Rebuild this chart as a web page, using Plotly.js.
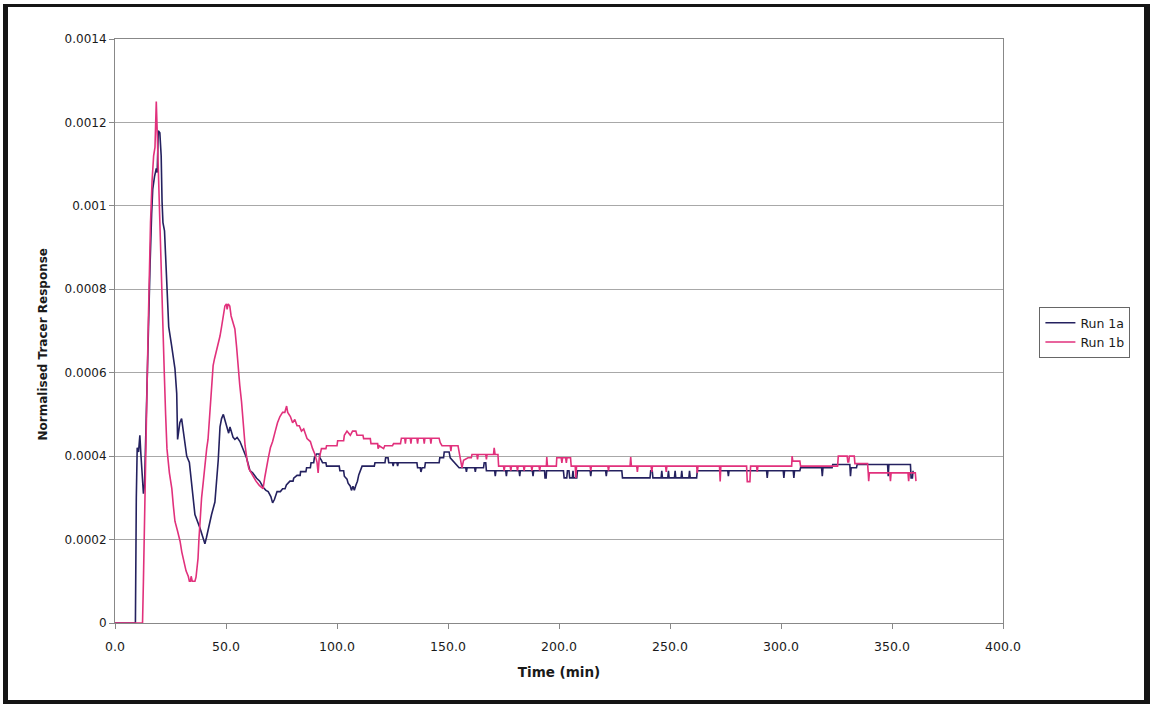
<!DOCTYPE html>
<html>
<head>
<meta charset="utf-8">
<script src="https://cdn.plot.ly/plotly-3.0.1.min.js"></script>
<style>
  html, body { margin: 0; padding: 0; background: #fff; }
  #wrap { position: relative; width: 1153px; height: 706px; }
  #chart { position: absolute; left: 0; top: 0; width: 1153px; height: 706px; }
  #frame {
    position: absolute; left: 3px; top: 4px; width: 1136px; height: 693px;
    border-left: 5px solid #151515; border-top: 3px solid #151515;
    border-right: 6px solid #151515; border-bottom: 4px solid #151515;
    pointer-events: none;
  }
</style>
</head>
<body>
<div id="wrap">
  <div id="chart"></div>
  <div id="frame"></div>
</div>
<script>
// Series names
const seriesNames = ['Run 1a', 'Run 1b'];

// Run 1a: [time (min), normalised tracer response]
const run1a = [
  [0,0],[9.2,0],[9.6,0.00030],[10.0,0.00042],[10.6,0.00041],[11.2,0.00045],[11.6,0.00041],[12.2,0.00036],[12.8,0.00031],[13.3,0.00033],
  [13.8,0.00045],[14.5,0.00062],[15.2,0.00078],[15.8,0.00086],[16.5,0.00098],[17.0,0.00104],[17.8,0.00107],[18.6,0.00109],[19.0,0.00108],[19.5,0.00118],
  [20.2,0.001175],[20.8,0.00112],[21.2,0.00101],[21.6,0.00096],[22.3,0.00094],[23.0,0.00085],[23.5,0.00079],[24.2,0.00071],[25.5,0.000665],[27.0,0.00061],
  [27.8,0.00055],[28.2,0.00044],[28.7,0.00046],[29.2,0.00048],[30.0,0.00049],[30.7,0.00046],[31.5,0.00043],[32.3,0.00040],[33.5,0.000385],[34.5,0.00034],
  [36.0,0.00026],[38.3,0.000227],[39.8,0.000203],[40.5,0.00019],[41.2,0.000205],[42.0,0.000227],[43.5,0.00026],[45.0,0.00029],[45.8,0.00034],[46.5,0.00039],
  [47.3,0.00047],[48.0,0.00049],[48.8,0.0005],[50.0,0.00048],[50.6,0.000465],[51.2,0.000455],[51.8,0.00047],[52.5,0.00046],[53.2,0.000445],[54.0,0.00044],
  [55.0,0.000445],[56.3,0.000435],[57.0,0.000425],[57.8,0.000415],[59.3,0.000395],[60.8,0.000365],[62.0,0.00036],[63.8,0.000347],[65.2,0.00034],[66.8,0.000325],
  [68.0,0.000318],[69.0,0.000315],[70.2,0.000303],[71.0,0.000288],[71.8,0.000296],[73.0,0.000315],[74.5,0.000315],[75.5,0.000322],[76.6,0.000322],[77.2,0.000331],
  [78.8,0.00034],[80.2,0.00034],[80.5,0.000347],[82.0,0.000354],[83.4,0.000354],[83.6,0.000363],[86.0,0.000363],[86.3,0.000372],[88.0,0.000372],[88.3,0.000384],
  [89.5,0.000384],[89.8,0.000396],[90.8,0.000405],[92.0,0.000405],[92.3,0.000396],[93.0,0.00039],[93.5,0.000384],[95.0,0.000384],[95.3,0.000376],[101.0,0.000376],
  [101.3,0.000365],[103.0,0.000365],[103.3,0.000352],[104.5,0.000345],[105.0,0.000335],[106.0,0.000328],[106.5,0.000318],[107.2,0.000328],[107.8,0.000318],[108.5,0.00033],
  [109.2,0.00034],[109.8,0.000355],[111.0,0.00037],[111.3,0.000376],[116.8,0.000376],[117.1,0.000384],[121.6,0.000384],[121.9,0.000396],[123.0,0.000396],[123.3,0.000384],
  [125.0,0.000384],[125.3,0.000376],[125.6,0.000384],[127.0,0.000384],[127.3,0.000376],[127.6,0.000384],[136.0,0.000384],[136.3,0.000372],[137.5,0.000372],[137.8,0.000362],
  [138.3,0.000372],[139.5,0.000372],[139.8,0.000384],[146.0,0.000384],[146.3,0.000396],[148.0,0.000396],[148.3,0.00041],[150.5,0.00041],[151.0,0.000396],[153.0,0.000384],
  [154.5,0.000376],[155.0,0.000372],[158.0,0.000372],[158.3,0.000362],[158.6,0.000372],[162.0,0.000372],[162.3,0.000362],[162.6,0.000372],[166.0,0.000372],[166.3,0.000384],
  [167.0,0.000384],[167.3,0.000365],[171.0,0.000365],[171.3,0.000352],[171.6,0.000365],[176.0,0.000365],[176.3,0.000352],[176.6,0.000365],[182.0,0.000365],[182.3,0.000352],
  [182.6,0.000365],[188.0,0.000365],[188.3,0.000352],[188.6,0.000365],[193.5,0.000365],[193.7,0.000348],[194.2,0.000348],[194.4,0.000365],[202.0,0.000365],[202.3,0.000348],
  [203.5,0.000348],[203.8,0.000365],[204.5,0.000365],[204.8,0.000348],[206.0,0.000348],[206.3,0.000365],[206.6,0.000348],[208.0,0.000348],[208.3,0.000365],[214.0,0.000365],
  [214.3,0.000352],[214.6,0.000365],[221.0,0.000365],[221.3,0.000352],[221.6,0.000365],[228.3,0.000365],[228.6,0.000348],[241.0,0.000348],[241.3,0.000365],[242.0,0.000365],
  [242.3,0.000348],[246.0,0.000348],[246.3,0.000365],[246.6,0.000348],[249.0,0.000348],[249.3,0.000365],[249.6,0.000348],[252.0,0.000348],[252.3,0.000365],[252.6,0.000348],
  [255.0,0.000348],[255.3,0.000365],[255.6,0.000348],[258.5,0.000348],[258.8,0.000365],[259.1,0.000348],[262.0,0.000348],[262.3,0.000365],[276.0,0.000365],[276.3,0.000352],
  [276.6,0.000365],[293.5,0.000365],[293.8,0.000348],[294.1,0.000365],[301.0,0.000365],[301.3,0.000348],[301.6,0.000365],[305.5,0.000365],[305.8,0.000348],[306.1,0.000365],
  [308.5,0.000365],[308.8,0.000372],[318.3,0.000372],[318.6,0.000352],[318.9,0.000372],[323.0,0.000372],[323.3,0.00038],[331.0,0.00038],[331.3,0.000352],[331.6,0.000372],
  [334.0,0.000372],[334.3,0.00038],[348.0,0.00038],[348.3,0.000352],[348.6,0.00038],[358.3,0.00038],[358.6,0.000348],[359.2,0.000348],[359.5,0.000365]
];

// Run 1b: [time (min), normalised tracer response]
const run1b = [
  [0,0],[12.4,0],[12.8,0.00010],[13.4,0.00030],[14.2,0.00050],[15.0,0.00072],[15.4,0.00084],[16.0,0.00096],[16.7,0.00106],[17.4,0.00112],
  [18.0,0.00114],[18.3,0.00120],[18.6,0.00125],[19.0,0.00118],[19.4,0.00110],[19.9,0.00102],[20.4,0.00096],[21.0,0.00082],[21.6,0.00070],[22.2,0.00060],
  [22.8,0.00050],[23.4,0.000418],[24.5,0.00036],[25.6,0.000322],[26.3,0.00028],[27.0,0.000244],[28.2,0.00022],[29.3,0.000196],[30.1,0.00017],[30.8,0.000155],
  [32.0,0.000125],[33.0,0.000112],[33.5,0.0001],[34.0,0.0001],[34.3,0.000112],[34.8,0.0001],[36.0,0.0001],[36.5,0.00011],[37.0,0.00013],[37.4,0.000155],
  [37.8,0.0002],[38.3,0.000258],[39.0,0.0003],[39.8,0.00034],[40.6,0.00039],[41.3,0.000418],[41.9,0.00044],[42.6,0.0005],[43.3,0.00056],[44.2,0.000617],
  [44.8,0.000633],[45.6,0.00065],[46.4,0.00067],[47.3,0.000688],[48.0,0.00071],[48.8,0.00074],[49.5,0.00076],[50.2,0.000765],[50.5,0.000752],[51.0,0.000765],
  [51.7,0.00076],[52.3,0.000736],[53.0,0.00072],[54.0,0.000705],[54.8,0.00066],[55.4,0.00061],[56.2,0.00057],[57.0,0.00053],[57.8,0.00048],[58.6,0.000425],
  [59.5,0.00039],[60.3,0.00037],[62.0,0.000354],[63.5,0.00034],[65.0,0.00033],[66.7,0.000322],[67.5,0.00035],[68.3,0.00038],[69.0,0.000394],[70.0,0.00042],
  [71.0,0.000435],[72.2,0.00046],[73.2,0.00048],[74.3,0.000495],[75.5,0.000505],[76.5,0.000505],[77.3,0.00052],[77.8,0.000505],[79.0,0.000495],[80.0,0.00048],
  [81.0,0.000488],[82.0,0.000473],[83.0,0.000473],[84.0,0.00046],[85.0,0.000465],[86.5,0.000442],[88.0,0.000435],[89.0,0.000418],[90.0,0.000405],[91.0,0.000385],
  [91.5,0.00036],[92.0,0.000395],[93.0,0.000418],[95.0,0.000418],[95.3,0.000425],[100.0,0.000425],[100.3,0.000437],[103.0,0.000437],[103.3,0.00045],[104.5,0.00046],
  [106.0,0.00045],[107.0,0.00046],[108.5,0.00046],[109.0,0.00045],[111.7,0.00045],[112.0,0.000442],[115.0,0.000442],[115.3,0.00043],[118.3,0.00043],[118.5,0.000418],
  [119.0,0.000425],[121.0,0.000418],[121.5,0.000425],[125.0,0.000425],[125.5,0.00043],[128.6,0.00043],[129.0,0.000443],[130.5,0.000443],[130.8,0.00043],[131.1,0.000443],
  [133.0,0.000443],[133.3,0.00043],[133.6,0.000443],[136.0,0.000443],[136.3,0.00043],[136.6,0.000443],[139.0,0.000443],[139.3,0.00043],[139.6,0.000443],[142.0,0.000443],
  [142.3,0.00043],[142.6,0.000443],[146.0,0.000443],[146.5,0.000432],[147.3,0.000425],[151.0,0.000425],[151.3,0.000412],[151.6,0.000425],[154.5,0.000425],[155.0,0.00041],
  [155.8,0.00039],[156.3,0.000372],[157.0,0.00039],[159.0,0.000396],[160.5,0.000396],[160.8,0.000404],[163.0,0.000404],[163.3,0.000392],[163.6,0.000404],[167.0,0.000404],
  [167.3,0.000392],[167.6,0.000404],[170.5,0.000404],[170.8,0.00042],[171.2,0.000404],[172.5,0.000404],[172.8,0.000376],[175.0,0.000376],[175.3,0.000365],[175.6,0.000376],
  [178.0,0.000376],[178.3,0.000365],[178.6,0.000376],[181.0,0.000376],[181.3,0.000365],[181.6,0.000376],[184.0,0.000376],[184.3,0.000365],[184.6,0.000376],[187.5,0.000376],
  [187.8,0.000365],[188.1,0.000376],[191.0,0.000376],[191.3,0.000365],[191.6,0.000376],[194.3,0.000376],[194.5,0.000398],[194.8,0.000376],[198.8,0.000376],[199.0,0.000396],
  [201.0,0.000396],[201.3,0.000384],[201.6,0.000396],[203.0,0.000396],[203.3,0.000384],[203.6,0.000396],[205.2,0.000396],[205.5,0.000376],[207.3,0.000376],[207.6,0.000348],
  [207.9,0.000376],[214.0,0.000376],[214.3,0.000365],[214.6,0.000376],[222.0,0.000376],[222.3,0.000365],[222.6,0.000376],[232.0,0.000376],[232.3,0.000398],[232.6,0.000376],
  [235.0,0.000376],[235.3,0.000362],[235.6,0.000376],[241.5,0.000376],[241.8,0.000362],[242.1,0.000376],[248.0,0.000376],[248.3,0.000362],[248.6,0.000376],[262.0,0.000376],
  [262.3,0.00036],[262.6,0.000376],[272.3,0.000376],[272.6,0.000339],[272.9,0.000376],[284.5,0.000376],[284.8,0.000339],[286.0,0.000339],[286.3,0.000376],[289.0,0.000376],
  [289.3,0.000362],[289.6,0.000376],[304.8,0.000376],[305.0,0.0004],[305.3,0.000388],[308.5,0.000388],[308.8,0.000376],[325.5,0.000376],[325.8,0.0004],[329.8,0.0004],
  [330.1,0.000386],[330.5,0.000386],[330.8,0.0004],[333.0,0.0004],[333.3,0.000382],[339.0,0.000382],[339.3,0.00036],[339.5,0.00034],[339.8,0.00036],[349.0,0.00036],
  [349.3,0.00034],[349.6,0.00036],[357.2,0.00036],[357.5,0.00034],[357.8,0.00036],[360.5,0.00036],[360.8,0.00034]
];

// Axis ticks
const xTickVals = [0, 50, 100, 150, 200, 250, 300, 350, 400];
const xTickText = ['0.0', '50.0', '100.0', '150.0', '200.0', '250.0', '300.0', '350.0', '400.0'];
const yTickVals = [0, 0.0002, 0.0004, 0.0006, 0.0008, 0.001, 0.0012, 0.0014];
const yTickText = ['0', '0.0002', '0.0004', '0.0006', '0.0008', '0.001', '0.0012', '0.0014'];

const lineColors = ['#24215f', '#e1317c'];

const traces = [run1a, run1b].map((pts, i) => ({
  type: 'scatter',
  mode: 'lines',
  name: seriesNames[i],
  x: pts.map(p => p[0]),
  y: pts.map(p => p[1]),
  line: { color: lineColors[i], width: 1.6 }
}));

const font = 'DejaVu Sans, Liberation Sans, sans-serif';
const ink = '#1a1a1a';

const layout = {
  width: 1153,
  height: 706,
  margin: { l: 115, r: 150, t: 39, b: 82.5 },
  paper_bgcolor: '#ffffff',
  plot_bgcolor: '#ffffff',
  font: { family: font, size: 12, color: ink },
  showlegend: true,
  legend: {
    x: 1.041, y: 0.541, xanchor: 'left', yanchor: 'top',
    bgcolor: '#fff', bordercolor: '#666', borderwidth: 1,
    font: { family: font, size: 12.5, color: ink },
    tracegroupgap: 0
  },
  xaxis: {
    range: [0, 400],
    tickvals: xTickVals, ticktext: xTickText,
    ticks: 'outside', ticklen: 5, tickcolor: '#888',
    ticklabelstandoff: 7,
    showgrid: false, zeroline: false,
    showline: true, linecolor: '#888', linewidth: 1, mirror: true,
    tickfont: { family: font, size: 12.5, color: ink },
    title: { text: '<b>Time (min)</b>', font: { family: font, size: 13.5, color: ink }, standoff: 14 }
  },
  yaxis: {
    range: [0, 0.0014],
    tickvals: yTickVals, ticktext: yTickText,
    ticks: 'outside', ticklen: 5, tickcolor: '#888',
    showgrid: true, gridcolor: '#a8a8a8', gridwidth: 1,
    zeroline: false,
    showline: true, linecolor: '#888', linewidth: 1, mirror: true,
    tickfont: { family: font, size: 12, color: ink }
  },
  annotations: [{
    text: '<b>Normalised Tracer Response</b>',
    xref: 'paper', yref: 'paper',
    x: -0.081, y: 0.477,
    xanchor: 'center', yanchor: 'middle',
    textangle: -90, showarrow: false,
    font: { family: font, size: 12, color: ink }
  }]
};

Plotly.newPlot('chart', traces, layout, { displayModeBar: false, staticPlot: true });
</script>
</body>
</html>
